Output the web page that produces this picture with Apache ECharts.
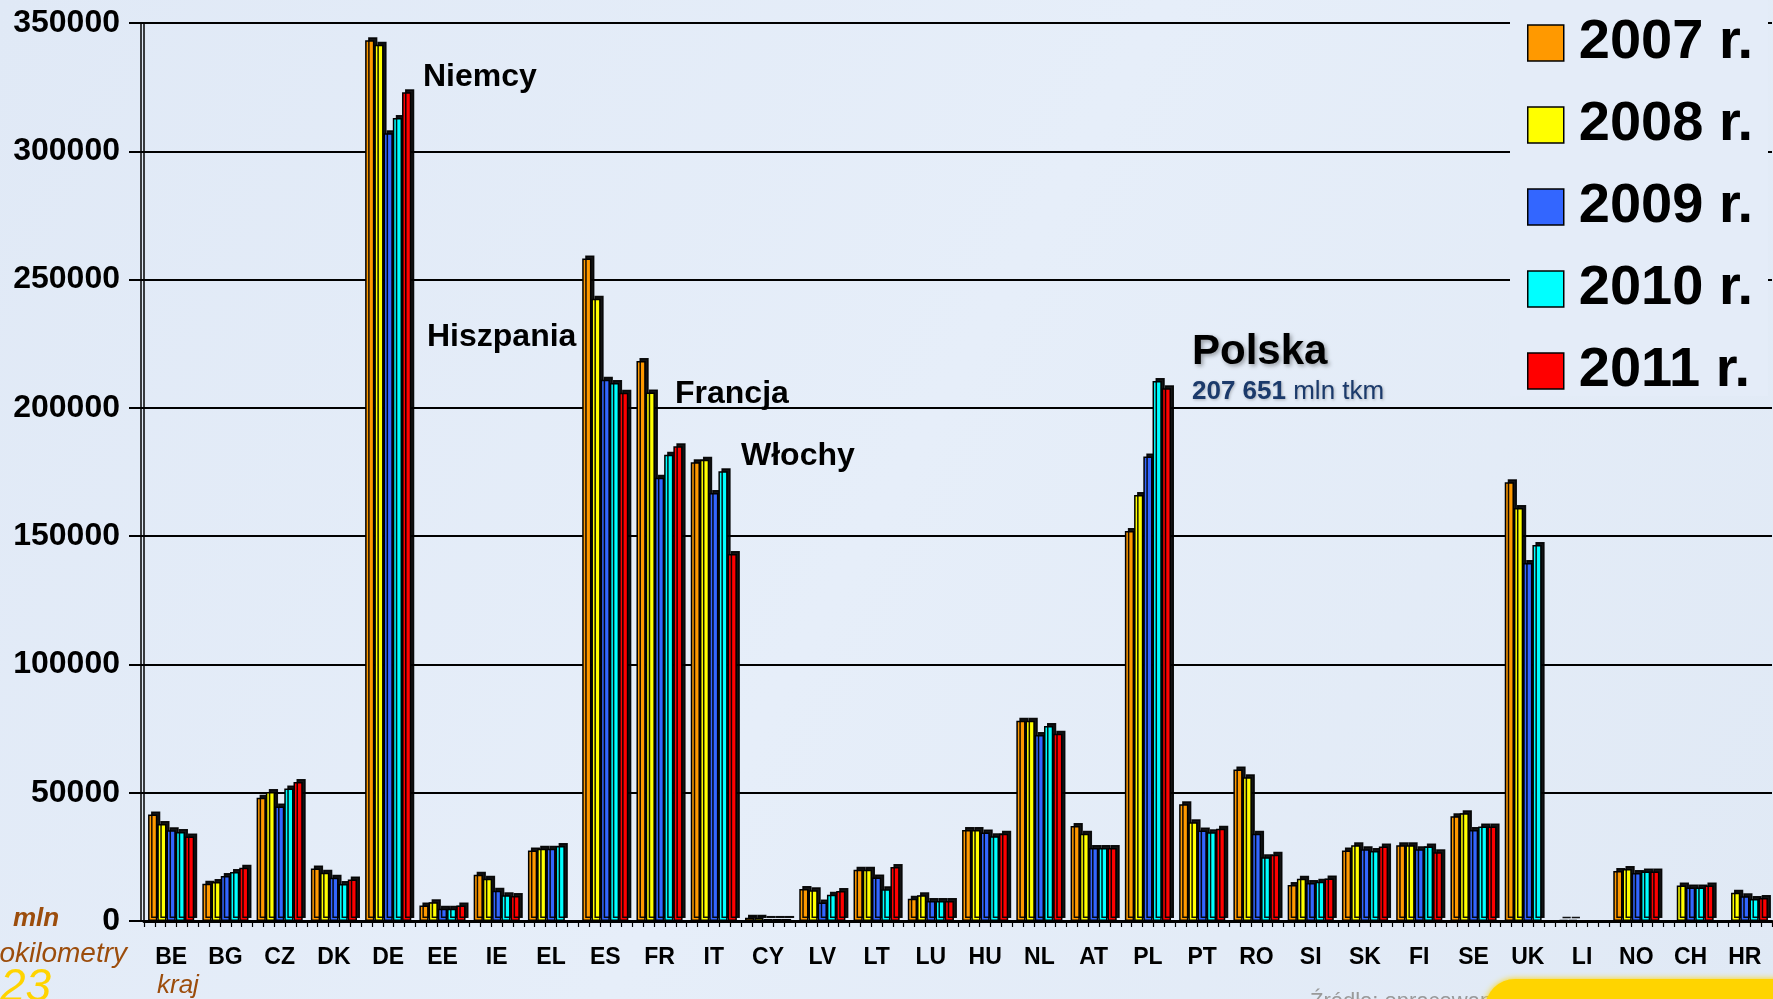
<!DOCTYPE html>
<html>
<head>
<meta charset="utf-8">
<script src="https://cdn.jsdelivr.net/npm/echarts@6/dist/echarts.min.js"></script>
<style>
html,body{margin:0;padding:0;background:#e2ebf7;}
#chart{width:1773px;height:999px;}
</style>
</head>
<body>
<div id="chart"></div>
<script>
const categories = ['BE','BG','CZ','DK','DE','EE','IE','EL','ES','FR','IT','CY','LV','LT','LU','HU','NL','AT','PL','PT','RO','SI','SK','FI','SE','UK','LI','NO','CH','HR'];
const seriesNames = ['2007 r.','2008 r.','2009 r.','2010 r.','2011 r.'];
const colors = ['#ff9900','#ffff00','#3366ff','#00ffff','#ff0000'];

const v2007 = [41500,14500,48000,20500,343300,6000,18000,27500,258200,218300,178800,1300,12500,20000,8700,35500,78000,37000,152000,45500,59000,14000,27500,29500,40800,171000,400,19500,null,null];
const v2008 = [37800,15200,50300,18800,341500,7300,16500,28200,242500,206000,179800,1300,12000,20000,10000,35500,78000,34000,166000,38500,56000,16500,29500,29500,42000,161000,400,20300,13800,11000];
const v2009 = [35400,17500,44600,16900,307000,4800,11800,28200,211000,172800,166800,800,7200,17000,7800,34500,72500,28500,181000,35300,34000,14800,28000,28000,35500,139500,null,18700,13100,9600];
const v2010 = [34700,19100,51600,14400,313000,4800,10000,29200,209700,181700,175300,800,10200,12400,7800,33000,76000,28500,210500,34600,24800,15300,27300,29000,36800,146500,null,19300,13100,8600];
const v2011 = [32900,20800,54200,16200,323000,6000,9700,null,205900,185000,143000,800,11700,21000,7800,34000,73000,28500,207651,36000,25800,16600,29000,26800,36800,null,null,19300,13800,9000];
const values = [v2007, v2008, v2009, v2010, v2011];

const yMin = 0, yMax = 350000, yInterval = 50000;

// sub-slots used only to draw the small ticks between bars
const subSlots = [];
categories.forEach(c => seriesNames.forEach(s => subSlots.push(c + ' ' + s)));

const BG = '#e2ebf7';
const FONT = 'Liberation Sans, Arial, sans-serif';

const chart = echarts.init(document.getElementById('chart'));
const option = {
  backgroundColor: {
    type: 'linear', x: 0, y: 0, x2: 1, y2: 1,
    colorStops: [{offset: 0, color: '#e0e9f6'}, {offset: 0.5, color: '#e6eef9'}, {offset: 1, color: '#e0e9f5'}]
  },
  animation: false,
  grid: {left: 144, right: 1, top: 23, bottom: 78, containLabel: false},
  legend: {
    orient: 'vertical', left: 1522, top: 10, z: 10,
    itemWidth: 36, itemHeight: 36, itemGap: 26, icon: 'rect',
    selectedMode: false,
    data: seriesNames,
    itemStyle: {borderColor: '#000', borderWidth: 1.5, shadowColor: 'rgba(0,0,0,0)', shadowOffsetX: 0, shadowOffsetY: 0, shadowBlur: 0},
    textStyle: {fontFamily: FONT, fontSize: 56, fontWeight: 'bold', color: '#000', padding: [0,0,0,10]}
  },
  xAxis: [{
    type: 'category', data: categories, gridIndex: 0, position: 'bottom',
    axisLine: {lineStyle: {color: '#000', width: 3}},
    axisTick: {length: 17, interval: 0, lineStyle: {color: '#000', width: 2}},
    axisLabel: {interval: 0, fontFamily: FONT, fontSize: 23, fontWeight: 'bold', color: '#000', margin: 25},
    splitLine: {show: false}
  }, {
    type: 'category', data: subSlots, gridIndex: 0, position: 'bottom',
    axisLine: {show: false},
    axisTick: {show: true, length: 6, interval: 0, lineStyle: {color: '#000', width: 1.2}},
    axisLabel: {show: false},
    splitLine: {show: false}
  }],
  yAxis: [{
    type: 'value', min: yMin, max: yMax, interval: yInterval,
    axisLine: {show: true, lineStyle: {color: '#000', width: 1.5}},
    axisTick: {show: true, length: 15, lineStyle: {color: '#000', width: 2}},
    axisLabel: {formatter: v => String(v), fontFamily: FONT, fontSize: 32, fontWeight: 'bold', color: '#000', margin: 24},
    splitLine: {show: true, lineStyle: {color: '#000', width: 2}}
  }, {
    type: 'value', min: yMin, max: yMax, interval: yInterval, position: 'left', offset: 3,
    axisLine: {show: true, lineStyle: {color: '#000', width: 1.5}},
    axisTick: {show: false}, axisLabel: {show: false}, splitLine: {show: false}
  }],
  series: seriesNames.map((name, i) => ({
    name: name, type: 'bar', xAxisIndex: 0, yAxisIndex: 0,
    data: values[i],
    barGap: '0%', barCategoryGap: '15%',
    itemStyle: {color: colors[i], borderColor: '#000', borderWidth: 1.5,
      shadowColor: 'rgba(0,0,0,0.92)', shadowOffsetX: 3, shadowOffsetY: -3, shadowBlur: 0}
  })),
  graphic: [
    {type: 'rect', z: 3, shape: {x: 1510, y: 0, width: 258, height: 396}, style: {fill: '#e4ecf8'}},
    {type: 'text', z: 20, style: {x: 423, y: 77, text: 'Niemcy', font: 'bold 32px ' + FONT, fill: '#000', verticalAlign: 'middle'}},
    {type: 'text', z: 20, style: {x: 427, y: 337, text: 'Hiszpania', font: 'bold 32px ' + FONT, fill: '#000', verticalAlign: 'middle'}},
    {type: 'text', z: 20, style: {x: 675, y: 394, text: 'Francja', font: 'bold 32px ' + FONT, fill: '#000', verticalAlign: 'middle'}},
    {type: 'text', z: 20, style: {x: 741, y: 456, text: 'Włochy', font: 'bold 32px ' + FONT, fill: '#000', verticalAlign: 'middle'}},
    {type: 'text', z: 20, style: {x: 1192, y: 352, text: 'Polska', font: 'bold 42px ' + FONT, fill: '#000', verticalAlign: 'middle',
      textShadowColor: 'rgba(0,0,0,0.35)', textShadowBlur: 4, textShadowOffsetX: 2, textShadowOffsetY: 2}},
    {type: 'text', z: 20, style: {x: 1192, y: 392, text: '{b|207 651} mln tkm', font: '26px ' + FONT, fill: '#1b3a6b', verticalAlign: 'middle',
      textShadowColor: 'rgba(0,0,0,0.25)', textShadowBlur: 3, textShadowOffsetX: 1, textShadowOffsetY: 1,
      rich: {b: {fontFamily: FONT, fontSize: 26, fontWeight: 'bold', fill: '#1b3a6b', textShadowColor: 'rgba(0,0,0,0.25)', textShadowBlur: 3, textShadowOffsetX: 1, textShadowOffsetY: 1}}}},
    {type: 'text', z: 20, style: {x: 13, y: 919, text: 'mln', font: 'italic bold 26px ' + FONT, fill: '#9c4d0c', verticalAlign: 'middle'}},
    {type: 'text', z: 20, style: {x: 127, y: 954, text: 'tonokilometry', font: 'italic 28px ' + FONT, fill: '#9c4d0c', align: 'right', verticalAlign: 'middle'}},
    {type: 'text', z: 20, style: {x: 0, y: 988, text: '23', font: 'italic 46px ' + FONT, fill: '#ffd400', verticalAlign: 'middle'}},
    {type: 'text', z: 20, style: {x: 157, y: 986, text: 'kraj', font: 'italic 26px ' + FONT, fill: '#9c4d0c', verticalAlign: 'middle'}},
    {type: 'text', z: 20, style: {x: 1310, y: 1002, text: 'Źródło: opracowanie własne', font: '22px ' + FONT, fill: '#999', verticalAlign: 'middle'}},
    {type: 'rect', z: 21, shape: {x: 1485, y: 979, width: 330, height: 40, r: [30, 0, 0, 0]}, style: {fill: '#ffd400', shadowColor: '#ffd400', shadowBlur: 6}}
  ]
};
chart.setOption(option);
</script>
</body>
</html>
